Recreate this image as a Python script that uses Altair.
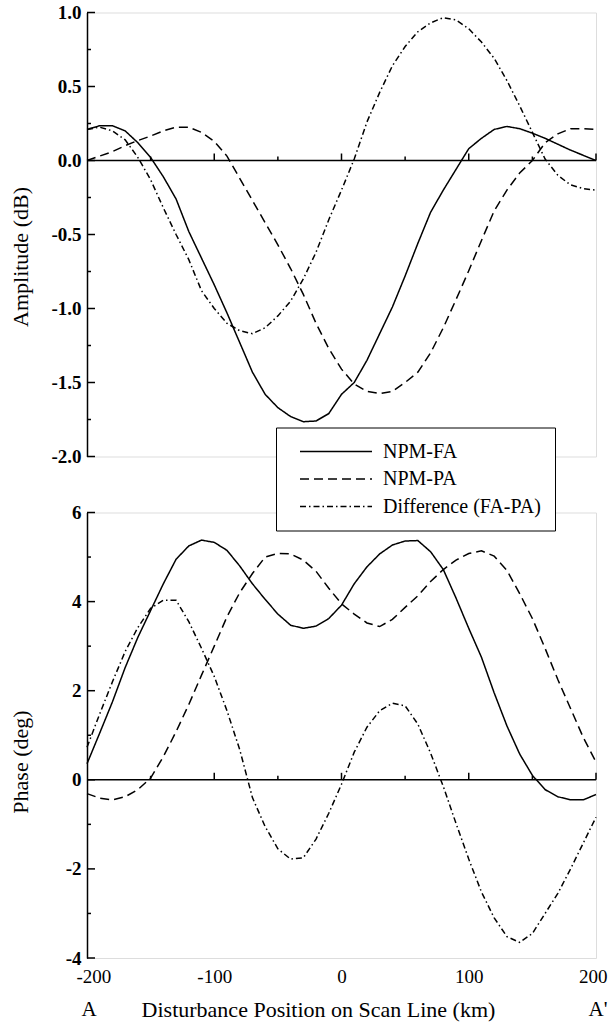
import altair as alt
import pandas as pd

# ---------------- data ----------------
km = list(range(-200, 201, 10))

amp_fa = [0.21, 0.235, 0.235, 0.20, 0.12, 0.02, -0.11, -0.26, -0.48, -0.66, -0.84,
          -1.03, -1.23, -1.43, -1.58, -1.67, -1.73, -1.765, -1.76, -1.71, -1.58,
          -1.50, -1.35, -1.17, -0.99, -0.78, -0.56, -0.35, -0.20, -0.06, 0.08,
          0.15, 0.21, 0.23, 0.215, 0.185, 0.15, 0.11, 0.07, 0.035, 0.0]
amp_pa = [0.0, 0.03, 0.06, 0.10, 0.135, 0.165, 0.20, 0.225, 0.225, 0.19, 0.13,
          0.03, -0.12, -0.27, -0.42, -0.57, -0.73, -0.905, -1.10, -1.27, -1.41,
          -1.51, -1.56, -1.575, -1.56, -1.50, -1.43, -1.30, -1.13, -0.94, -0.745,
          -0.54, -0.34, -0.20, -0.085, 0.0, 0.12, 0.18, 0.215, 0.215, 0.21]
amp_diff = [0.21, 0.225, 0.20, 0.14, 0.02, -0.13, -0.32, -0.50, -0.67, -0.88, -1.00,
            -1.10, -1.15, -1.17, -1.13, -1.05, -0.95, -0.80, -0.62, -0.40, -0.20,
            0.01, 0.26, 0.46, 0.64, 0.77, 0.87, 0.93, 0.965, 0.95, 0.89,
            0.80, 0.69, 0.54, 0.37, 0.19, 0.01, -0.10, -0.165, -0.19, -0.20]

ph_fa = [0.36, 1.05, 1.75, 2.52, 3.2, 3.8, 4.4, 4.95, 5.25, 5.38, 5.33,
         5.15, 4.8, 4.4, 4.05, 3.72, 3.47, 3.40, 3.45, 3.62, 3.92,
         4.40, 4.78, 5.07, 5.27, 5.36, 5.37, 5.12, 4.72, 4.08, 3.40,
         2.75, 1.95, 1.21, 0.58, 0.1, -0.22, -0.38, -0.45, -0.45, -0.33]
ph_pa = [-0.31, -0.41, -0.45, -0.38, -0.22, 0.04, 0.52, 1.08, 1.69, 2.35, 3.0,
         3.66, 4.2, 4.63, 5.0, 5.08, 5.07, 4.93, 4.68, 4.30, 3.95,
         3.72, 3.52, 3.44, 3.6, 3.87, 4.13, 4.45, 4.72, 4.93, 5.08,
         5.14, 5.02, 4.70, 4.18, 3.62, 2.95, 2.25, 1.60, 0.95, 0.40]
ph_diff = [0.73, 1.48, 2.2, 2.88, 3.42, 3.85, 4.03, 4.03, 3.55, 2.95, 2.32,
           1.55, 0.68, -0.40, -1.05, -1.55, -1.78, -1.75, -1.33, -0.75, -0.1,
           0.62, 1.18, 1.55, 1.72, 1.66, 1.25, 0.60, -0.15, -0.98, -1.78,
           -2.52, -3.1, -3.52, -3.65, -3.45, -3.0, -2.55, -2.0, -1.42, -0.84]

series = ["NPM-FA", "NPM-PA", "Difference (FA-PA)"]

amp_ticks_major = [-2.0, -1.5, -1.0, -0.5, 0.0, 0.5, 1.0]
amp_ticks_minor = [-1.75, -1.25, -0.75, -0.25, 0.25, 0.75]
ph_ticks_major = [-4, -2, 0, 2, 4, 6]
ph_ticks_minor = [-3, -1, 1, 3, 5]
x_ticks_major = [-100, 0, 100, 200]
x_ticks_minor = [-150, -50, 50, 150]
x_labels = [-200, -100, 0, 100, 200]
end_km = [-200, 200]
end_text = ["A", "A'"]

# ---------------- tables ----------------
def long(vals_list):
    rows = []
    for name, vals in zip(series, vals_list):
        for k, v in zip(km, vals):
            rows.append({"km": k, "v": v, "series": name})
    return pd.DataFrame(rows)

amp_df = long([amp_fa, amp_pa, amp_diff])
ph_df = long([ph_fa, ph_pa, ph_diff])

FONT = "Liberation Serif, Times New Roman, serif"
W = 509
H_TOP = 444
H_BOT = 445.5
XS = alt.Scale(domain=[-200, 200], nice=False, zero=False)
dash_scale = alt.Scale(domain=series, range=[[1, 0], [9, 5], [6, 3, 1.5, 3]])
ylab = "datum.value < 0 ? '-' + format(-datum.value, '{f}') : format(datum.value, '{f}')"

leg = alt.Legend(orient="none", legendX=189, legendY=415, title=None,
                 symbolType="M-4,0L4,0", symbolSize=324, symbolStrokeWidth=1.5,
                 symbolStrokeColor="black", symbolOffset=36,
                 labelFont=FONT, labelFontSize=20, labelColor="black", labelOffset=37,
                 labelLimit=400,
                 labelExpr="datum.label + '\u00a0\u00a0\u00a0\u00a0\u00a0'",
                 padding=14, rowPadding=7.5, strokeColor="black", fillColor="white")


def panel(df, ydom, height, yt_major, yt_minor, ytitle, title_y, fmt, xaxis):
    ys = alt.Scale(domain=ydom, nice=False, zero=False)
    unit = (ydom[1] - ydom[0]) / height  # data units per pixel, for tick lengths
    zero = alt.Chart(pd.DataFrame({"z": [0]})).mark_rule(color="black", strokeWidth=1.5).encode(
        y=alt.Y("z:Q", scale=ys))
    xt_major = alt.Chart(pd.DataFrame({"t": x_ticks_major, "z": 0.0, "z2": 7 * unit})).mark_rule(
        color="black", strokeWidth=1.5).encode(
        x=alt.X("t:Q", scale=XS), y=alt.Y("z:Q", scale=ys), y2="z2:Q")
    xt_minor = alt.Chart(pd.DataFrame({"t": x_ticks_minor, "z": 0.0, "z2": 4 * unit})).mark_rule(
        color="black", strokeWidth=1.5).encode(
        x=alt.X("t:Q", scale=XS), y=alt.Y("z:Q", scale=ys), y2="z2:Q")
    yt1 = alt.Chart(pd.DataFrame({"t": yt_major})).mark_rule(color="black", strokeWidth=1.5).encode(
        y=alt.Y("t:Q", scale=ys), x=alt.value(0), x2=alt.value(8))
    yt2 = alt.Chart(pd.DataFrame({"t": yt_minor})).mark_rule(color="black", strokeWidth=1.5).encode(
        y=alt.Y("t:Q", scale=ys), x=alt.value(0), x2=alt.value(4))
    lines = alt.Chart(df).mark_line(color="black", strokeWidth=1.5).encode(
        x=alt.X("km:Q", scale=XS, axis=xaxis),
        y=alt.Y("v:Q", scale=ys, axis=alt.Axis(
            values=yt_major, domain=True, domainColor="black", domainWidth=1.5,
            ticks=False, grid=False,
            labelExpr=ylab.format(f=fmt), labelFont=FONT, labelFontSize=19,
            labelFontWeight="bold", labelColor="black", labelPadding=6,
            title=ytitle, titleFont=FONT, titleFontSize=22, titleFontWeight="normal",
            titleColor="black", titleX=-60, titleY=title_y, titleBaseline="alphabetic",
            titleAngle=270, titleAlign="center")),
        strokeDash=alt.StrokeDash("series:N", scale=dash_scale, legend=leg),
    )
    return [lines, zero, xt_major, xt_minor, yt1, yt2]


top = alt.layer(*panel(amp_df, [-2.0, 1.0], H_TOP, amp_ticks_major, amp_ticks_minor,
                       "Amplitude (dB)", 244, ".1f", None)).properties(width=W, height=H_TOP)

xaxis = alt.Axis(values=x_labels, domain=False, ticks=False, grid=False,
                 labelExpr=ylab.format(f="d"), labelFont=FONT, labelFontSize=19,
                 labelColor="black", labelPadding=9, labelOverlap=False,
                 labelFlush=True, labelFlushOffset=11,
                 title="Disturbance Position on Scan Line (km)", titleFont=FONT,
                 titleFontSize=22, titleFontWeight="normal", titleColor="black",
                 titleX=231, titleY=58.5, titleBaseline="alphabetic", titleAlign="center")
ends = alt.Chart(pd.DataFrame({"km": end_km, "txt": end_text})).mark_text(
    font=FONT, fontSize=21, baseline="alphabetic", dx=2, color="black").encode(
    x=alt.X("km:Q", scale=XS), y=alt.value(503.8), text="txt:N")
bottom = alt.layer(*panel(ph_df, [-4, 6], H_BOT, ph_ticks_major, ph_ticks_minor,
                          "Phase (deg)", 249, "d", xaxis), ends).properties(width=W, height=H_BOT)

chart = alt.vconcat(top, bottom, spacing=56, bounds="flush").properties(
    padding={"left": 8, "top": 2.5, "right": 0, "bottom": 0}
).configure_view(stroke=None).configure(background="white")

chart.save("out.html", embed_options={"renderer": "svg", "actions": False})
